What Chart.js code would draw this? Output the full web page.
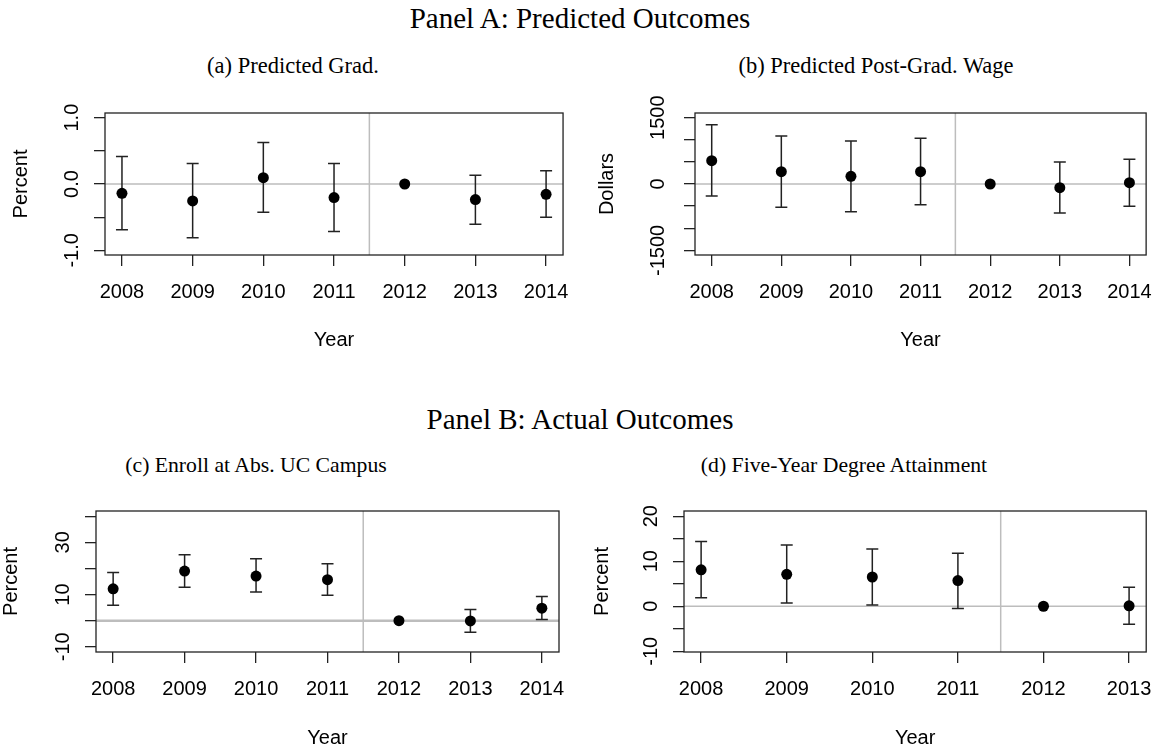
<!DOCTYPE html>
<html>
<head>
<meta charset="utf-8">
<title>Predicted and actual outcomes</title>
<script src="https://cdn.jsdelivr.net/npm/chart.js@4.4.0/dist/chart.umd.min.js"></script>
<style>
  body { margin: 0; background: #fff; }
  #page { position: relative; width: 1166px; height: 751px; overflow: hidden; background: #fff; }
  .ttl { position: absolute; font-family: "Liberation Serif", "Times New Roman", serif; color: #000;
         white-space: nowrap; transform: translate(-50%, -50%); line-height: 1; }
  .main { font-size: 29px; }
  .subA { font-size: 22.5px; }
  .subB { font-size: 21.7px; }
  canvas { position: absolute; }
</style>
</head>
<body>
<div id="page">
  <div class="ttl main" style="left:580px; top:18px;">Panel A: Predicted Outcomes</div>
  <div class="ttl subA" style="left:293px; top:66px;">(a) Predicted Grad.</div>
  <div class="ttl subA" style="left:876px; top:66px;">(b) Predicted Post-Grad. Wage</div>
  <div class="ttl main" style="left:580px; top:419px;">Panel B: Actual Outcomes</div>
  <div class="ttl subB" style="left:256px; top:466px;">(c) Enroll at Abs. UC Campus</div>
  <div class="ttl subB" style="left:844px; top:466px;">(d) Five-Year Degree Attainment</div>

  <canvas id="chartA"></canvas>
  <canvas id="chartB"></canvas>
  <canvas id="chartC"></canvas>
  <canvas id="chartD"></canvas>
</div>

<script>
// ---- data ----
const years = [2008, 2009, 2010, 2011, 2012, 2013, 2014];
const yearsDegree = [2008, 2009, 2010, 2011, 2012, 2013];

const gradEst  = [-0.14, -0.255, 0.095, -0.205, 0, -0.235, -0.155];
const gradLow  = [-0.69, -0.81, -0.425, -0.715, null, -0.605, -0.50];
const gradHigh = [0.415, 0.31, 0.625, 0.31, null, 0.13, 0.20];

const wageEst  = [528, 279, 173, 279, 0, -83, 30];
const wageLow  = [-271, -528, -626, -467, null, -656, -505];
const wageHigh = [1342, 1086, 973, 1033, null, 498, 558];

const enrollEst  = [12.2, 19.0, 17.1, 15.7, 0, -0.1, 4.8];
const enrollLow  = [5.9, 12.8, 11.0, 9.7, null, -4.4, 0.4];
const enrollHigh = [18.4, 25.2, 23.7, 21.8, null, 4.3, 9.3];

const degreeEst  = [8.1, 7.1, 6.5, 5.7, 0, 0.1];
const degreeLow  = [1.9, 0.7, 0.3, -0.5, null, -4.0];
const degreeHigh = [14.4, 13.6, 12.7, 11.8, null, 4.2];

const gradTicks = [-1, -0.5, 0, 0.5, 1];
const gradTickLabels = ['-1.0', '', '0.0', '', '1.0'];
const wageTicks = [-1500, -1000, -500, 0, 500, 1000, 1500];
const wageTickLabels = ['-1500', '', '', '0', '', '', '1500'];
const enrollTicks = [-10, 0, 10, 20, 30, 40];
const enrollTickLabels = ['-10', '', '10', '', '30', ''];
const degreeTicks = [-10, -5, 0, 5, 10, 15, 20];
const degreeTickLabels = ['-10', '', '0', '', '10', '', '20'];

const cutoffYear = 2011.5;

// ---- drawing helpers ----
const AXIS_FONT = { family: '"Liberation Sans", Arial, sans-serif', size: 20 };
const INK = '#222';

// gray reference lines, error bars, box and rotated y labels (R base style)
const rStylePlugin = {
  id: 'rStyle',
  beforeDatasetsDraw(chart) {
    const { ctx, chartArea: a, scales: { x, y } } = chart;
    const o = chart.options.plugins.rStyle;
    ctx.save();
    ctx.strokeStyle = '#bdbdbd';
    ctx.lineWidth = o.zeroWidth || 1.5;
    const y0 = y.getPixelForValue(0);
    ctx.beginPath(); ctx.moveTo(a.left, y0); ctx.lineTo(a.right, y0); ctx.stroke();
    ctx.lineWidth = 1.5;
    const xc = x.getPixelForValue(cutoffYear);
    ctx.beginPath(); ctx.moveTo(xc, a.top); ctx.lineTo(xc, a.bottom); ctx.stroke();

    ctx.strokeStyle = INK;
    ctx.lineWidth = 1.5;
    o.xs.forEach((xv, i) => {
      if (o.low[i] === null) return;
      const px = x.getPixelForValue(xv);
      const lo = y.getPixelForValue(o.low[i]);
      const hi = y.getPixelForValue(o.high[i]);
      ctx.beginPath();
      ctx.moveTo(px, lo); ctx.lineTo(px, hi);
      ctx.moveTo(px - 6, lo); ctx.lineTo(px + 6, lo);
      ctx.moveTo(px - 6, hi); ctx.lineTo(px + 6, hi);
      ctx.stroke();
    });
    ctx.restore();
  },
  afterDraw(chart) {
    const { ctx, chartArea: a, scales: { y } } = chart;
    const o = chart.options.plugins.rStyle;
    ctx.save();
    ctx.strokeStyle = INK;
    ctx.lineWidth = 1.3;
    ctx.strokeRect(a.left, a.top, a.right - a.left, a.bottom - a.top);
    ctx.fillStyle = '#000';
    ctx.font = AXIS_FONT.size + 'px ' + AXIS_FONT.family;
    ctx.textAlign = 'center';
    ctx.textBaseline = 'middle';
    o.ticks.forEach((v, i) => {
      if (!o.tickLabels[i]) return;
      ctx.save();
      ctx.translate(a.left - o.labelGap, y.getPixelForValue(v));
      ctx.rotate(-Math.PI / 2);
      ctx.fillText(o.tickLabels[i], 0, 0);
      ctx.restore();
    });
    ctx.restore();
  }
};

function makePanel(id, p) {
  const cv = document.getElementById(id);
  cv.width = p.canvas.w;
  cv.height = p.canvas.h;
  cv.style.left = p.canvas.x + 'px';
  cv.style.top = p.canvas.y + 'px';

  const yWidth = p.box.l - p.canvas.x;
  const xHeight = p.canvas.y + p.canvas.h - p.box.b;

  return new Chart(cv, {
    type: 'scatter',
    data: {
      datasets: [{
        data: p.xs.map((xv, i) => ({ x: xv, y: p.est[i] })),
        backgroundColor: '#000',
        borderWidth: 0,
        pointRadius: 5.5,
        pointHoverRadius: 5.5
      }]
    },
    options: {
      responsive: false,
      animation: false,
      events: [],
      layout: {
        padding: { left: 0, top: p.box.t - p.canvas.y, right: p.canvas.x + p.canvas.w - p.box.r, bottom: 0 }
      },
      plugins: {
        legend: { display: false },
        tooltip: { enabled: false },
        rStyle: { xs: p.xs, low: p.low, high: p.high, ticks: p.yTicks, tickLabels: p.yTickLabels,
                  zeroWidth: p.zeroWidth, labelGap: p.labelGap || 33 }
      },
      scales: {
        x: {
          type: 'linear',
          min: p.xMin, max: p.xMax,
          afterBuildTicks: s => { s.ticks = p.xs.map(v => ({ value: v })); },
          afterFit: s => { s.height = xHeight; },
          border: { display: false },
          grid: { drawOnChartArea: false, drawTicks: true, tickLength: 11, color: INK, lineWidth: 1.3 },
          ticks: { color: '#000', font: AXIS_FONT, padding: 14, maxRotation: 0, autoSkip: false,
                   callback: v => String(v) },
          title: { display: true, text: 'Year', color: '#000', font: AXIS_FONT,
                   padding: { top: 0, bottom: p.canvas.y + p.canvas.h - p.yearY - 12 } }
        },
        y: {
          type: 'linear',
          min: p.yMin, max: p.yMax,
          afterBuildTicks: s => { s.ticks = p.yTicks.map(v => ({ value: v })); },
          afterFit: s => { s.width = yWidth; },
          border: { display: false },
          grid: { drawOnChartArea: false, drawTicks: true, tickLength: 11, color: INK, lineWidth: 1.3 },
          ticks: { display: false },
          title: { display: true, text: p.yTitle, color: '#000', font: AXIS_FONT,
                   padding: { top: p.yTitleX - p.canvas.x - 12, bottom: 0 } }
        }
      }
    },
    plugins: [rStylePlugin]
  });
}

makePanel('chartA', {
  canvas: { x: 0, y: 80, w: 583, h: 290 }, box: { l: 105, r: 565, t: 113, b: 255 },
  yTitleX: 21, yearY: 340,
  xs: years, est: gradEst, low: gradLow, high: gradHigh,
  xMin: 2007.76, xMax: 2014.24, yMin: -1.07, yMax: 1.07,
  yTicks: gradTicks, yTickLabels: gradTickLabels, yTitle: 'Percent'
});

makePanel('chartB', {
  canvas: { x: 583, y: 80, w: 583, h: 290 }, box: { l: 695, r: 1157, t: 113, b: 255 },
  yTitleX: 607, yearY: 340, labelGap: 37,
  xs: years, est: wageEst, low: wageLow, high: wageHigh,
  xMin: 2007.76, xMax: 2014.24, yMin: -1605, yMax: 1605,
  yTicks: wageTicks, yTickLabels: wageTickLabels, yTitle: 'Dollars'
});

makePanel('chartC', {
  canvas: { x: 0, y: 480, w: 583, h: 271 }, box: { l: 96, r: 559, t: 511, b: 652 },
  yTitleX: 11, yearY: 738, zeroWidth: 2.5,
  xs: years, est: enrollEst, low: enrollLow, high: enrollHigh,
  xMin: 2007.76, xMax: 2014.24, yMin: -12, yMax: 42,
  yTicks: enrollTicks, yTickLabels: enrollTickLabels, yTitle: 'Percent'
});

makePanel('chartD', {
  canvas: { x: 583, y: 480, w: 583, h: 271 }, box: { l: 684, r: 1148, t: 511, b: 652 },
  yTitleX: 602, yearY: 738,
  xs: yearsDegree, est: degreeEst, low: degreeLow, high: degreeHigh,
  xMin: 2007.8, xMax: 2013.2, yMin: -10.16, yMax: 21.16,
  yTicks: degreeTicks, yTickLabels: degreeTickLabels, yTitle: 'Percent'
});
</script>
</body>
</html>
